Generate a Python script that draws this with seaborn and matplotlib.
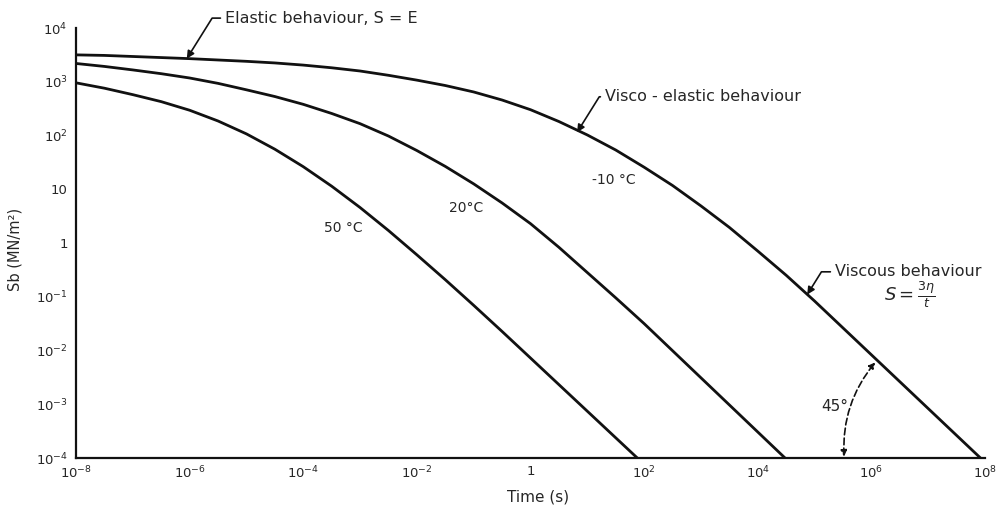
import numpy as np
import pandas as pd
import matplotlib
matplotlib.use("Agg")
import matplotlib.pyplot as plt
from matplotlib.ticker import FixedLocator, FixedFormatter, NullLocator, NullFormatter
from matplotlib.patches import FancyArrowPatch
import seaborn as sns

# Bitumen stiffness vs loading time, stored as log10 values
log_time_cold = [-8.0, -7.5, -7.0, -6.5, -6.0, -5.5, -5.0, -4.5, -4.0, -3.5, -3.0, -2.5,
                 -2.0, -1.5, -1.0, -0.5, 0.0, 0.5, 1.0, 1.5, 2.0, 2.5, 3.0, 3.5,
                 4.0, 4.5, 5.0, 5.5, 6.0, 7.92]
log_stiff_cold = [3.50, 3.49, 3.47, 3.45, 3.43, 3.405, 3.38, 3.35, 3.31, 3.26, 3.20, 3.12,
                  3.03, 2.93, 2.81, 2.66, 2.48, 2.26, 2.01, 1.73, 1.41, 1.07, 0.69, 0.29,
                  -0.15, -0.60, -1.08, -1.58, -2.08, -4.0]

log_time_mid = [-8.0, -7.5, -7.0, -6.5, -6.0, -5.5, -5.0, -4.5, -4.0, -3.5, -3.0, -2.5,
                -2.0, -1.5, -1.0, -0.5, 0.0, 0.5, 1.0, 1.5, 2.0, 4.48]
log_stiff_mid = [3.34, 3.285, 3.22, 3.15, 3.07, 2.97, 2.85, 2.725, 2.58, 2.41, 2.22, 1.99,
                 1.72, 1.425, 1.10, 0.745, 0.36, -0.08, -0.55, -1.02, -1.50, -4.0]

log_time_hot = [-8.0, -7.5, -7.0, -6.5, -6.0, -5.5, -5.0, -4.5, -4.0, -3.5, -3.0, -2.5,
                -2.0, -1.5, -1.0, -0.5, 0.0, 1.88]
log_stiff_hot = [2.98, 2.88, 2.76, 2.63, 2.47, 2.27, 2.03, 1.745, 1.42, 1.057, 0.66, 0.232,
                 -0.22, -0.683, -1.16, -1.646, -2.14, -4.0]

temperatures = ["-10 °C", "20 °C", "50 °C"]

x_ticks = [1e-8, 1e-6, 1e-4, 1e-2, 1, 1e2, 1e4, 1e6, 1e8]
x_tick_labels = [r"$10^{-8}$", r"$10^{-6}$", r"$10^{-4}$", r"$10^{-2}$", "1",
                 r"$10^{2}$", r"$10^{4}$", r"$10^{6}$", r"$10^{8}$"]
x_minor = [1e-7, 1e-5, 1e-3, 1e-1, 1e1, 1e3, 1e5, 1e7]
y_ticks = [1e-4, 1e-3, 1e-2, 1e-1, 1, 10, 1e2, 1e3, 1e4]
y_tick_labels = [r"$10^{-4}$", r"$10^{-3}$", r"$10^{-2}$", r"$10^{-1}$", "1", "10",
                 r"$10^{2}$", r"$10^{3}$", r"$10^{4}$"]

frames = []
for name, lt, ls in zip(temperatures,
                        [log_time_cold, log_time_mid, log_time_hot],
                        [log_stiff_cold, log_stiff_mid, log_stiff_hot]):
    frames.append(pd.DataFrame({"time": 10 ** np.asarray(lt),
                                "stiffness": 10 ** np.asarray(ls),
                                "temperature": name}))
df = pd.concat(frames, ignore_index=True)

sns.set_style("white")
plt.rcParams["font.family"] = ["DejaVu Sans"]
plt.rcParams["mathtext.fontset"] = "dejavusans"

fig = plt.figure(figsize=(10.04, 5.11), dpi=100)
ax = fig.add_axes([0.0757, 0.1037, 0.9054, 0.8415])
ax.set_xscale("log")
ax.set_yscale("log")

sns.lineplot(data=df, x="time", y="stiffness", hue="temperature",
             palette=["#111111"] * 3, estimator=None, sort=False,
             linewidth=2.0, legend=False, ax=ax)
for line in ax.get_lines():
    line.set_solid_joinstyle("round")

ax.set_xlim(1e-8, 1e8)
ax.set_ylim(1e-4, 1e4)

for side in ("top", "right"):
    ax.spines[side].set_visible(False)
for side in ("left", "bottom"):
    ax.spines[side].set_color("#111111")
    ax.spines[side].set_linewidth(1.6)

ax.xaxis.set_major_locator(FixedLocator(x_ticks))
ax.xaxis.set_major_formatter(FixedFormatter(x_tick_labels))
ax.xaxis.set_minor_locator(FixedLocator(x_minor))
ax.xaxis.set_minor_formatter(NullFormatter())
ax.yaxis.set_major_locator(FixedLocator(y_ticks))
ax.yaxis.set_major_formatter(FixedFormatter(y_tick_labels))
ax.yaxis.set_minor_locator(NullLocator())

ax.tick_params(axis="both", which="both", direction="in", color="#111111", width=1.2)
ax.tick_params(axis="x", which="major", length=6, pad=5, labelsize=9.5)
ax.tick_params(axis="x", which="minor", length=5)
ax.tick_params(axis="y", which="major", length=6, pad=6, labelsize=9.5)

ax.set_xlabel("Time (s)", fontsize=11)
ax.xaxis.set_label_coords(0.508, -0.073)
ax.set_ylabel("Sb (MN/m²)", fontsize=10.5)
ax.yaxis.set_label_coords(-0.059, 0.484)

# Temperature labels
ax.text(0.592, 0.647, "-10 °C", transform=ax.transAxes, fontsize=10, ha="center", va="center")
ax.text(0.429, 0.581, "20°C", transform=ax.transAxes, fontsize=10, ha="center", va="center")
ax.text(0.294, 0.535, "50 °C", transform=ax.transAxes, fontsize=10, ha="center", va="center")

arrow_kw = dict(arrowstyle="-|>", color="#111111", lw=1.2, shrinkA=1, shrinkB=0,
                mutation_scale=11, relpos=(0.0, 0.5),
                connectionstyle="angle,angleA=0,angleB=58,rad=0")

ax.annotate("Elastic behaviour, S = E", xy=(10 ** -6.05, 10 ** 3.43), xycoords="data",
            xytext=(0.164, 1.023), textcoords="axes fraction", ha="left", va="center",
            fontsize=11.5, arrowprops=arrow_kw, annotation_clip=False)
ax.annotate("Visco - elastic behaviour", xy=(10 ** 0.82, 10 ** 2.06), xycoords="data",
            xytext=(0.582, 0.840), textcoords="axes fraction", ha="left", va="center",
            fontsize=11.5, arrowprops=arrow_kw)
ax.annotate("Viscous behaviour", xy=(10 ** 4.87, 10 ** -0.96), xycoords="data",
            xytext=(0.835, 0.433), textcoords="axes fraction", ha="left", va="center",
            fontsize=11.5, arrowprops=arrow_kw)
ax.text(0.917, 0.380, r"$S = \frac{3\eta}{t}$", transform=ax.transAxes,
        fontsize=13, ha="center", va="center")

# 45 degree slope marker between the time axis and the viscous asymptote
arc_start_log_t = 5.52
arc_end_log_t = 6.10
arc_end_log_s = np.interp(arc_end_log_t, log_time_cold, log_stiff_cold)
arc = FancyArrowPatch((10 ** arc_start_log_t, 1e-4), (10 ** arc_end_log_t, 10 ** arc_end_log_s),
                      transform=ax.transData, arrowstyle="<|-|>", mutation_scale=9,
                      connectionstyle="arc3,rad=-0.2", linestyle=(0, (4, 2)),
                      color="#111111", lw=1.2, shrinkA=1, shrinkB=2, clip_on=False)
ax.add_patch(arc)
ax.text(0.835, 0.119, "45°", transform=ax.transAxes, fontsize=11, ha="center", va="center")

fig.savefig("out.png", dpi=100)
